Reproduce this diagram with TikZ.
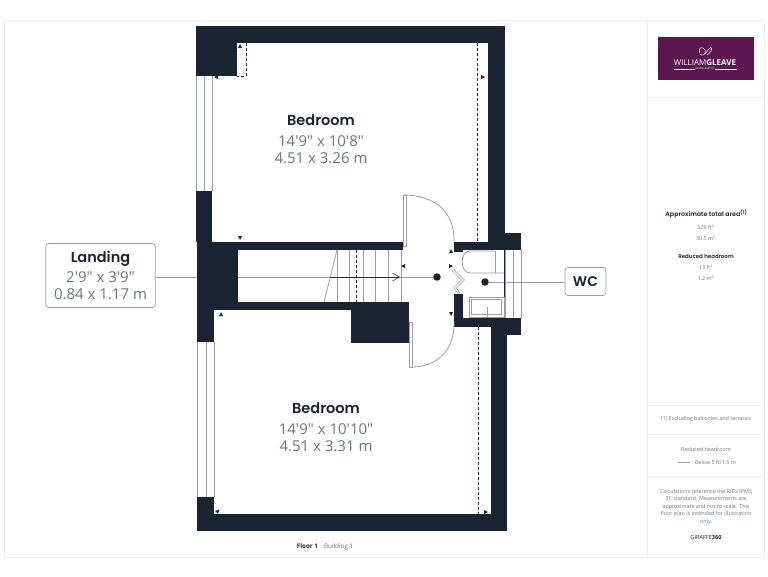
\documentclass[tikz,border=0pt]{standalone}
\usepackage{fontspec}
\setmainfont{Open Sans}[Ligatures=TeXOff]
\newfontfamily\headfont{Poppins}[BoldFont={Poppins SemiBold}]
\usepackage{tikz}
\usetikzlibrary{positioning,arrows.meta}
\definecolor{wallblue}{HTML}{1A2433}
\definecolor{textgrey}{HTML}{6E7680}
\definecolor{linegrey}{HTML}{9A9EA3}
\definecolor{panelgrey}{HTML}{ECEDEE}
\definecolor{logopurple}{HTML}{5C1650}

\begin{document}
\begin{tikzpicture}[x=1pt,y=-1pt]
    \tikzstyle{every path}=[line width=.7pt]
    \tikzstyle{wall}=[fill=wallblue,draw=none]
    \tikzstyle{thinline}=[draw=linegrey,line width=.8pt]
    \tikzstyle{panelline}=[draw=panelgrey,line width=.7pt]
    \tikzstyle{roomlabel}=[align=center,text=textgrey,font=\fontsize{15}{17.5}\selectfont,inner sep=0pt]
    \tikzstyle{roomname}=[text=wallblue,font=\headfont\fontsize{14.5}{17.5}\selectfont\bfseries,inner sep=0pt]
    \tikzstyle{callout}=[draw=linegrey,fill=white,rounded corners=3pt,line width=.8pt,align=center,text=textgrey]
    \tikzstyle{sidehead}=[text=wallblue,font=\headfont\fontsize{6.3}{8}\selectfont\bfseries,inner sep=0pt]
    \tikzstyle{sidetext}=[text=textgrey,font=\fontsize{5.4}{7.5}\selectfont,align=center,inner sep=0pt]
    \tikzstyle{roomdot}=[circle,fill=wallblue,minimum size=7.5pt,inner sep=0pt]

    \useasboundingbox (0,0) rectangle (768,576);
    \fill[white] (0,0) rectangle (768,576);

    %% Draw page frame and side panel
    \draw[panelline] (4,20) -- (764,20) -- (764,557) -- (4,557) -- cycle;
    \draw[panelline] (647,20) -- (647,557);
    \foreach \y in {97,405,434,476}
        \draw[panelline] (647,\y) -- (764,\y);

    %% Draw callouts and their leaders
    \node[roomdot] (landingdot) at (437,277) {};
    \node[roomdot] (wcdot) at (485,282) {};
    \node[callout,minimum width=109.5pt,minimum height=64pt,inner sep=0pt,
          font=\fontsize{15}{17.5}\selectfont] (landing) at (100.5,275.5)
        {{\headfont\bfseries\fontsize{14.5}{17.5}\selectfont\textcolor{wallblue}{Landing}}\\[2pt]
         2'9" x 3'9"\\0.84 x 1.17 m};
    \node[callout,minimum width=41pt,minimum height=28pt,inner sep=0pt] (wc) at (585.5,281.5)
        {\headfont\fontsize{14}{17}\selectfont\bfseries\textcolor{wallblue}{WC}};
    \draw[thinline] (landing.east |- landingdot) -- (landingdot);
    \draw[thinline] (wcdot) -- (wcdot -| wc.west);

    %% Draw walls
    \fill[wall] (196,26) rectangle (505,43);
    \fill[wall] (488,43) rectangle (505,250);
    \fill[wall] (196,43) rectangle (237,76);
    \fill[wall] (196,191) rectangle (212,242);
    \fill[wall] (197,242) rectangle (238,302);
    \fill[wall] (197,302) rectangle (214,342);
    \fill[wall] (212,242) rectangle (403,250);
    \fill[wall] (214,302) rectangle (409,310);
    \fill[wall] (351,302) rectangle (409,343);
    \fill[wall] (454,242) rectangle (488,250);
    \fill[wall] (454,250) rectangle (463,252);
    \fill[wall] (488,233) rectangle (521,250);
    \fill[wall] (454,294) rectangle (463,318);
    \fill[wall] (454,318) rectangle (521,327);
    \fill[wall] (507,318) rectangle (521,335);
    \fill[wall] (491,327) rectangle (507,531);
    \fill[wall] (197,514) rectangle (507,531);
    \fill[wall] (197,497) rectangle (214,514);

    %% Draw windows
    \foreach \x in {196,204,212}
        \draw[thinline] (\x,76) -- (\x,191);
    \foreach \x in {197,206,214}
        \draw[thinline] (\x,342) -- (\x,497);
    \foreach \x in {505,513,521}
        \draw[thinline] (\x,250) -- (\x,318);

    %% Draw stairs
    \foreach \x in {337,349,363,375,388,401}
        \draw[thinline] (\x,250) -- (\x,302);
    \draw[thinline] (337,250) -- (324,302);
    \draw[wallblue,densely dashed] (356,250) -- (356,302);
    \draw[wallblue,line width=.5pt,->,>={Straight Barb[length=7pt,width=8pt]}] (330,277) -- (400,277);

    %% Draw reduced headroom lines
    \draw[wallblue,densely dashed] (477,43) -- (477,242);
    \draw[wallblue,densely dashed] (478,327) -- (478,514);
    \draw[wallblue,densely dashed] (246,43) -- (246,76) -- (237,76);

    %% Draw doors
    \draw[thinline,fill=white] (403,195) rectangle (406,246);
    \draw[thinline] (403,195) .. controls (435,195) and (455,212) .. (454,242);
    \draw[thinline,fill=white] (409,322) rectangle (412,367);
    \draw[thinline] (412,367) .. controls (437,367) and (455,350) .. (454,322);
    \draw[linegrey,line width=2.6pt] (453,270) -- (463,280) -- (455,288) -- (459,293);
    \draw[white,line width=1.2pt] (453,270) -- (463,280) -- (455,288) -- (459,293);

    %% Draw WC fittings
    \draw[thinline] (495,251) -- (470,251) .. controls (459.5,251) and (459.5,273) .. (470,273) -- (504,273);
    \draw[thinline] (495,251) -- (495,273);
    \draw[wallblue,line width=.6pt] (504,250) -- (504,318);
    \draw[thinline] (469,297) rectangle (504,317);
    \draw[thinline] (471.5,299.5) rectangle (501.5,314.5);
    \draw[thinline] (487,307) -- (487,317);

    %% Draw small measure marks
    \foreach \x/\y/\a in {240/46/0,216/77/90,483/77/-90,240/238/180,451/251/0,451/266/-90,
                          403/266/90,451/314/180,221/314/0,218/511/-45,486/512/-90}
        \fill[wallblue,shift={(\x,\y)},rotate=\a] (-2,2) -- (2,2) -- (0,-2) -- cycle;

    %% Draw room labels
    \node[roomname] (bedroomup) at (321,120) {Bedroom};
    \node[roomlabel,below=9pt of bedroomup] (bedroomupsize) {14'9" x 10'8"\\4.51 x 3.26 m};
    \node[roomname] (bedroomlow) at (326,408) {Bedroom};
    \node[roomlabel,below=9pt of bedroomlow] (bedroomlowsize) {14'9" x 10'10"\\4.51 x 3.31 m};

    %% Draw logo
    \node[fill=logopurple,minimum width=96pt,minimum height=43pt,inner sep=0pt] (logo) at (706,58.5) {};
    \node[text=white,font=\fontsize{8}{8}\selectfont,inner sep=0pt] (logoname) at (705,63) {WILLIAM\textbf{GLEAVE}};
    \node[text=white,font=\fontsize{2.6}{3}\selectfont,inner sep=0pt] (logosub) at (705,69) {ESTATE AGENTS};
    \coordinate (ruleleft) at (674,69);
    \coordinate (ruleright) at (737,69);
    \draw[white,line width=.3pt] (ruleleft) -- (logosub.west) (logosub.east) -- (ruleright);
    \draw[white,line width=.5pt] (700,53) .. controls (697,47) and (703,46) .. (705,50)
        .. controls (707,54) and (702,57) .. (700,54) (705,54) .. controls (708,51) and (708,48) .. (711,47)
        (711,47) .. controls (713,50) and (710,53) .. (707,55);

    %% Draw side panel texts
    \node[sidehead] (totalhead) at (706.5,214) {Approximate total area\textsuperscript{\tiny(1)}};
    \node[sidetext] (totalval) at (706,232.5) {329 ft\textsuperscript{2}\\[3.5pt]30.5 m\textsuperscript{2}};
    \node[sidehead,font=\headfont\fontsize{5.5}{7}\selectfont\bfseries] (reducedhead) at (706,256) {Reduced headroom};
    \node[sidetext] (reducedval) at (706,272.5) {13 ft\textsuperscript{2}\\[3.5pt]1.2 m\textsuperscript{2}};
    \node[sidetext] (excluding) at (706,419.5) {(1) Excluding balconies and terraces};
    \node[sidetext] (reducedkey) at (706,449.5) {Reduced headroom};
    \node[sidetext] (belowkey) at (715.5,462) {Below 5 ft/1.5 m};
    \coordinate (keystart) at (678,462);
    \coordinate (keyend) at (690,462);
    \draw[thinline,line width=.5pt] (keystart) -- (keyend);
    \node[sidetext] (calcnote) at (706,507)
        {Calculations reference the RICS IPMS\\3C standard. Measurements are\\approximate and not to scale. This\\floor plan is intended for illustration\\only.};
    \node[text=wallblue,font=\fontsize{5.6}{7}\selectfont,inner sep=0pt] (giraffe) at (706,537) {GIRAFFE\textbf{360}};
    \node[font=\fontsize{6.3}{7}\selectfont,inner sep=0pt,text=textgrey] (floorname) at (325,547)
        {\textcolor{wallblue}{\textbf{Floor 1}}\hspace{6pt}Building 1};
\end{tikzpicture}
\end{document}
